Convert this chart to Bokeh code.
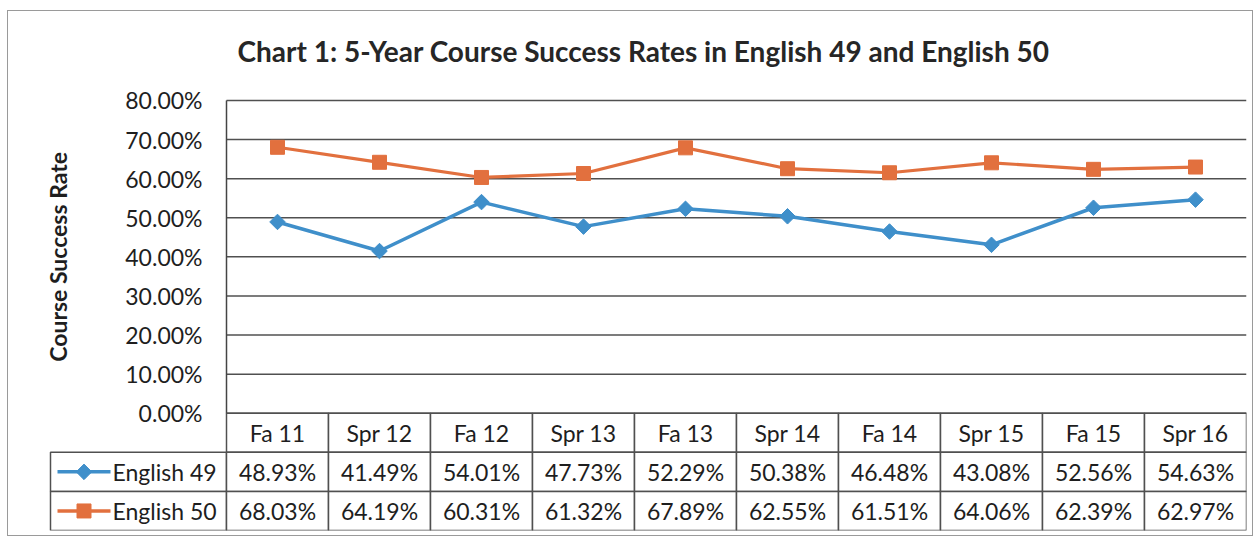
import numpy as np
from bokeh.plotting import figure
from bokeh.models import Range1d
from bokeh.core.properties import value
from bokeh.embed import file_html
from bokeh.resources import INLINE

terms = ["Fa 11", "Spr 12", "Fa 12", "Spr 13", "Fa 13", "Spr 14", "Fa 14", "Spr 15", "Fa 15", "Spr 16"]
eng49 = [48.93, 41.49, 54.01, 47.73, 52.29, 50.38, 46.48, 43.08, 52.56, 54.63]
eng50 = [68.03, 64.19, 60.31, 61.32, 67.89, 62.55, 61.51, 64.06, 62.39, 62.97]
series_names = ["English 49", "English 50"]
y_ticks = [0, 10, 20, 30, 40, 50, 60, 70, 80]
title_text = "Chart 1: 5-Year Course Success Rates in English 49 and English 50"
y_label = "Course Success Rate"

BLUE = "#3f8fca"
ORANGE = "#e2703e"
FONT = "Lato"
TXT = "#1e1e1e"
GRID = "#505050"
FS = "23px"

n = len(terms)
idx = list(range(n))
ymax = y_ticks[-1]
row_h = 10.0                      # table row height in chart units
table_rows = 3
ymin = -row_h * table_rows
px_per_unit = 313 / ymax          # vertical scale of the plotting area
ytop = ymax + 14 / px_per_unit    # headroom so the top tick label is not clipped

# pixel layout (page px)
col_px = 102.0                    # width of one category column
frame_left_px = 40                # frame left
plot_left_px = 226                # left edge of plotting area
legend_left_px = 50               # left edge of table legend column
x_start = -0.5 - (plot_left_px - frame_left_px) / col_px
leg_left = -0.5 - (plot_left_px - legend_left_px) / col_px

p = figure(width=1246, height=526, output_backend="svg", toolbar_location=None,
           x_range=Range1d(x_start, n - 0.5), y_range=Range1d(ymin, ytop),
           min_border_left=32, min_border_right=8, min_border_top=75, min_border_bottom=7,
           styles={"border": "1px solid #9a9a9a", "margin-left": "7px", "margin-top": "10px"})
p.title.text = title_text
p.title.text_font = FONT
p.title.text_font_size = "28px"
p.title.text_font_style = "bold"
p.title.text_color = "#262626"
p.title.align = "center"
p.title.standoff = 38
p.outline_line_color = None
p.axis.visible = False
p.grid.visible = False
p.background_fill_color = "white"
p.border_fill_color = "white"

# gridlines and value axis line of the plotting area
p.segment(x0=[-0.5] * len(y_ticks), y0=y_ticks, x1=[n - 0.5] * len(y_ticks), y1=y_ticks,
          line_color=GRID, line_width=1.5)
p.segment(x0=[-0.5], y0=[0], x1=[-0.5], y1=[ymax], line_color="#444444", line_width=1.5)
p.text(x=[-0.5] * len(y_ticks), y=y_ticks, text=[f"{t:.2f}%" for t in y_ticks],
       x_offset=-24, text_align="right", text_baseline="middle",
       text_font=value(FONT), text_font_size=FS, text_color=TXT)
p.text(x=[x_start + (57 - frame_left_px) / col_px], y=[ymax / 2], text=[y_label], angle=np.pi / 2,
       text_align="center", text_baseline="middle", text_font=value(FONT),
       text_font_size=FS, text_font_style="bold", text_color=TXT)

# series
p.line(idx, eng49, line_color=BLUE, line_width=3.5)
p.scatter(idx, eng49, marker="square", angle=np.pi / 4, size=11, fill_color=BLUE, line_color=BLUE)
p.line(idx, eng50, line_color=ORANGE, line_width=3.2)
p.scatter(idx, eng50, marker="square", size=14, fill_color=ORANGE, line_color=ORANGE)

# data table: header row
hy = -row_h / 2
p.quad(left=[i - 0.5 for i in idx], right=[i + 0.5 for i in idx],
       bottom=[hy - row_h / 2] * n, top=[hy + row_h / 2] * n,
       fill_color="white", line_color=GRID, line_width=1.5)
p.text(x=idx, y=[hy] * n, text=terms, text_align="center", text_baseline="middle",
       text_font=value(FONT), text_font_size=FS, text_color=TXT)

# data rows with legend keys
for k, (name, vals, col, sz, ang) in enumerate(zip(series_names, [eng49, eng50], [BLUE, ORANGE],
                                                   [11, 14], [np.pi / 4, 0])):
    ry = hy - row_h * (k + 1)
    p.quad(left=[leg_left] + [i - 0.5 for i in idx], right=[-0.5] + [i + 0.5 for i in idx],
           bottom=[ry - row_h / 2] * (n + 1), top=[ry + row_h / 2] * (n + 1),
           fill_color="white", line_color=GRID, line_width=1.5)
    p.text(x=idx, y=[ry] * n, text=[f"{v:.2f}%" for v in vals],
           text_align="center", text_baseline="middle", text_font=value(FONT),
           text_font_size=FS, text_color=TXT)
    lx = [leg_left + 7 / col_px, leg_left + 60 / col_px]
    p.line(lx, [ry, ry], line_color=col, line_width=3.5)
    p.scatter([sum(lx) / 2], [ry], marker="square", size=sz, angle=ang, fill_color=col, line_color=col)
    p.text(x=[leg_left + 62 / col_px], y=[ry], text=[name], text_align="left", text_baseline="middle",
           text_font=value(FONT), text_font_size=FS, text_color=TXT)

open("out.html", "w").write(file_html(p, INLINE))
